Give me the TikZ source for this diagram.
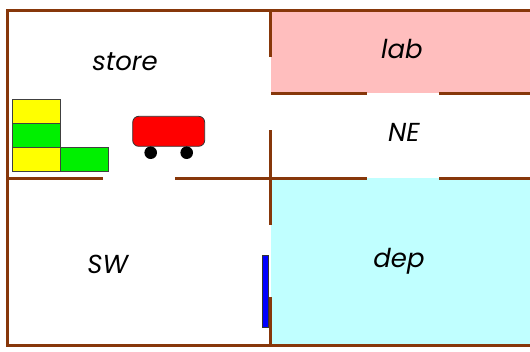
\documentclass[tikz,border=0pt]{standalone}
\usepackage{fontspec}
\setmainfont{Poppins}
\definecolor{wallbrown}{RGB}{135,55,10}
\definecolor{labpink}{RGB}{255,190,190}
\definecolor{depcyan}{RGB}{192,255,255}
\definecolor{boxyellow}{RGB}{255,255,0}
\definecolor{boxgreen}{RGB}{0,240,0}
\definecolor{cartred}{RGB}{255,0,0}
\definecolor{doorblue}{RGB}{0,0,255}
\begin{document}
\begin{tikzpicture}[x=1pt,y=-1pt,
  wall/.style={draw=wallbrown,line width=3pt},
  roomlabel/.style={anchor=base,inner sep=0pt,font=\fontsize{26}{30}\selectfont\itshape},
  crate/.style={draw=black!75,line width=0.8pt}]
\useasboundingbox (0,0) rectangle (530,351);
\fill[white] (0,0) rectangle (530,351);
% room floors
\fill[labpink] (271,10) rectangle (530,93);
\fill[depcyan] (271,178) rectangle (530,345);
% outer walls
\draw[wall] (530,10) -- (7,10) -- (7,345) -- (530,345);
% middle vertical wall with two doorways
\draw[wall] (270.5,10) -- (270.5,57);
\draw[wall] (270.5,130) -- (270.5,225);
\draw[wall] (270.5,297) -- (270.5,345);
% middle horizontal wall with two doorways
\draw[wall] (7,178) -- (103,178);
\draw[wall] (175,178) -- (367,178);
\draw[wall] (439,178) -- (530,178);
% lab wall
\draw[wall] (271,93) -- (367,93);
\draw[wall] (439,93) -- (530,93);
% stacked crates
\draw[crate,fill=boxyellow] (12.3,99.3) rectangle (60.7,123.3);
\draw[crate,fill=boxgreen] (12.3,123.3) rectangle (60.7,147.3);
\draw[crate,fill=boxyellow] (12.3,147.3) rectangle (60.7,171.3);
\draw[crate,fill=boxgreen] (60.7,147.3) rectangle (108.7,171.3);
% cart
\draw[black!80,line width=0.8pt,fill=cartred,rounded corners=6pt] (132.7,116.3) rectangle (204.7,146.3);
\fill[black] (150.7,152.7) circle (6.3pt);
\fill[black] (186.7,152.7) circle (6.3pt);
% door panel
\draw[black!80,line width=0.8pt,fill=doorblue] (262.5,255.7) rectangle (268.3,327.3);
% room names
\node[roomlabel] (store) at (125,70) {store};
\node[roomlabel] (lab) at (402,58) {lab};
\node[roomlabel] (ne) at (404,141.7) {NE};
\node[roomlabel] (sw) at (107.7,273.3) {SW};
\node[roomlabel] (dep) at (399,267.3) {dep};
\end{tikzpicture}
\end{document}
